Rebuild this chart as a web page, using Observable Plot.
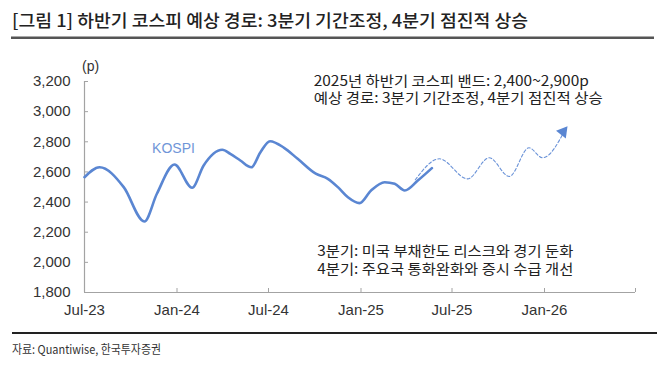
<!DOCTYPE html>
<html><head><meta charset="utf-8">
<script src="https://cdn.jsdelivr.net/npm/d3@7"></script>
<script src="https://cdn.jsdelivr.net/npm/@observablehq/plot@0.6"></script>
<style>
body{margin:0;background:#fff;}
#chart{position:relative;width:670px;height:368px;overflow:hidden;}
</style></head><body><div id="chart"></div>
<script>
// ---- data ----
const kospiDates = ["2023-07-01","2023-07-31","2023-09-17","2023-10-28","2023-11-22","2023-12-27","2024-01-31","2024-02-23","2024-03-31","2024-04-16","2024-05-06","2024-05-28","2024-06-15","2024-07-04","2024-08-01","2024-08-28","2024-10-03","2024-10-27","2024-11-16","2024-12-06","2024-12-29","2025-01-21","2025-02-17","2025-03-09","2025-03-29","2025-04-24","2025-05-22"];
const kospiValues = [2565,2631,2499,2271,2455,2649,2495,2643,2747,2720,2676,2631,2731,2804,2760,2687,2588,2554,2499,2432,2393,2477,2532,2521,2477,2543,2625];
const pathDates = ["2025-04-19","2025-06-06","2025-08-01","2025-09-13","2025-10-23","2025-12-01","2025-12-28","2026-02-13"];
const pathValues = [2548,2687,2554,2694,2570,2760,2694,2893];
const yTicks = [1800,2000,2200,2400,2600,2800,3000,3200];
const xTickDates = ["2023-07-01","2024-01-01","2024-07-01","2025-01-01","2025-07-01","2026-01-01","2026-07-01"];
const xTickLabels = ["Jul-23","Jan-24","Jul-24","Jan-25","Jul-25","Jan-26",""];
const titleText = "[그림 1] 하반기 코스피 예상 경로: 3분기 기간조정, 4분기 점진적 상승";
const bandNotes = ["2025년 하반기 코스피 밴드: 2,400~2,900p", "예상 경로: 3분기 기간조정, 4분기 점진적 상승"];
const quarterNotes = ["3분기: 미국 부채한도 리스크와 경기 둔화", "4분기: 주요국 통화완화와 증시 수급 개선"];
const seriesName = "KOSPI";
const unitLabel = "(p)";
const sourceText = "자료: Quantiwise, 한국투자증권";

// ---- build ----
const kospi = kospiDates.map((d,i)=>({date:new Date(d), value:kospiValues[i]}));
const path = pathDates.map((d,i)=>({date:new Date(d), value:pathValues[i]}));
const xTicks = xTickDates.map(d=>new Date(d));
const labelByTime = new Map(xTicks.map((d,i)=>[+d, xTickLabels[i]]));

const BLUE = "#5a86d2";
const AXIS = "#a3a3a3";
const KFONT = "'Noto Sans CJK KR', sans-serif";
const LFONT = "'Liberation Sans', Arial, sans-serif";

const chart = Plot.plot({
  width: 670, height: 368,
  marginLeft: 84, marginRight: 35, marginTop: 81, marginBottom: 76,
  style: {fontFamily: LFONT, fontSize: "15px", background: "#fff", color: "#333"},
  x: {type: "utc", domain: [xTicks[0], xTicks[xTicks.length-1]]},
  y: {domain: [1800, 3200]},
  marks: [
    Plot.ruleY([1800], {stroke: AXIS, strokeWidth: 1.2}),
    Plot.ruleX([xTicks[0]], {stroke: AXIS, strokeWidth: 1.2}),
    Plot.axisY(yTicks, {tickSize: -4, tickPadding: 18, tickFormat: d3.format(","), stroke: AXIS, fill: "#333", label: null, fontSize: 15}),
    Plot.axisX(xTicks, {tickSize: -4, tickPadding: 16, tickFormat: d => labelByTime.get(+d), stroke: AXIS, fill: "#333", label: null, fontSize: 15}),
    Plot.line(path, {x: "date", y: "value", curve: "monotone-x", stroke: "#6b93d8", strokeWidth: 1.1, strokeDasharray: "3,2.2"}),
    Plot.dot(path.slice(-1), {x: "date", y: "value", symbol: "triangle", r: 4.6, fill: BLUE, stroke: "none", rotate: 38, dx: -3, dy: 4}),
    Plot.line(kospi, {x: "date", y: "value", curve: "monotone-x", stroke: BLUE, strokeWidth: 2.6}),
    Plot.text([seriesName], {x: new Date("2023-12-25"), y: 2755, fill: "#6f96d8", fontSize: 14, fontFamily: LFONT}),
    Plot.text([bandNotes[0]], {x: new Date("2024-09-29"), y: 3200, textAnchor: "start", fill: "#222", fontSize: 14, fontFamily: KFONT}),
    Plot.text([bandNotes[1]], {x: new Date("2024-09-29"), y: 3087, textAnchor: "start", fill: "#222", fontSize: 14, fontFamily: KFONT}),
    Plot.text([quarterNotes[0]], {x: new Date("2024-10-06"), y: 2072, textAnchor: "start", fill: "#222", fontSize: 14, fontFamily: KFONT}),
    Plot.text([quarterNotes[1]], {x: new Date("2024-10-06"), y: 1953, textAnchor: "start", fill: "#222", fontSize: 14, fontFamily: KFONT})
  ]
});

document.getElementById("chart").appendChild(chart);

const svg = d3.select(chart.tagName.toLowerCase() === "svg" ? chart : chart.querySelector("svg"));
svg.style("overflow", "visible");

// fit annotation widths
const widths = new Map([[bandNotes[0], 275], [bandNotes[1], 289], [quarterNotes[0], 256], [quarterNotes[1], 256]]);
svg.selectAll("text").each(function(){
  const w = widths.get(this.textContent);
  if (w) { this.setAttribute("textLength", w); this.setAttribute("lengthAdjust", "spacingAndGlyphs"); }
});

// title, rules, unit, source
const deco = svg.append("g").attr("text-anchor", "start");
deco.append("text").attr("x", 12).attr("y", 27).attr("font-family", KFONT).attr("font-size", 17).attr("font-weight", 500)
  .attr("fill", "#222").attr("textLength", 516).attr("lengthAdjust", "spacingAndGlyphs").text(titleText);
deco.append("rect").attr("x", 11).attr("y", 36.5).attr("width", 643).attr("height", 2.5).attr("fill", "#555");
deco.append("text").attr("x", 82).attr("y", 71).attr("font-family", LFONT).attr("font-size", 14).attr("fill", "#333").text(unitLabel);
deco.append("rect").attr("x", 12).attr("y", 332).attr("width", 645).attr("height", 2).attr("fill", "#222");
deco.append("text").attr("x", 12).attr("y", 353.5).attr("font-family", KFONT).attr("font-size", 12).attr("fill", "#333")
  .attr("textLength", 149).attr("lengthAdjust", "spacingAndGlyphs").text(sourceText);
</script></body></html>
